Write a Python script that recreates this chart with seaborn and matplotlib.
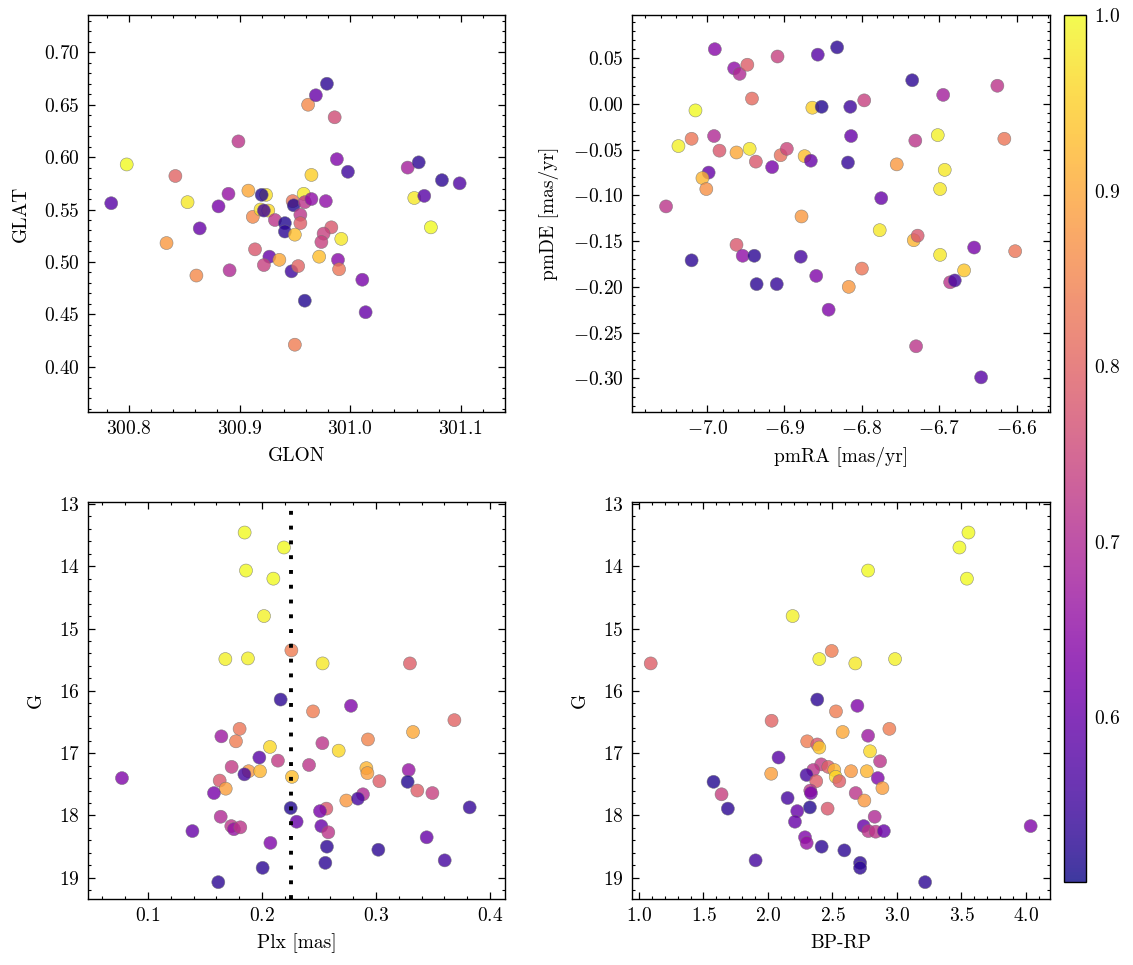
import numpy as np
import pandas as pd
import matplotlib
matplotlib.use("Agg")
import matplotlib.pyplot as plt
import seaborn as sns
from matplotlib.ticker import MultipleLocator, AutoMinorLocator, ScalarFormatter
from matplotlib.colors import Normalize, ListedColormap
from matplotlib.cm import ScalarMappable

# ---------------- data ----------------
glon = [300.784, 300.798, 300.842, 300.853, 300.834, 300.864, 300.861, 300.881, 300.890, 300.899,
        300.891, 300.908, 300.912, 300.924, 300.920, 300.919, 300.926, 300.922, 300.932, 300.914,
        300.927, 300.922, 300.936, 300.941, 300.941, 300.947, 300.953, 300.950, 300.959, 300.948,
        300.949, 300.958, 300.959, 300.965, 300.955, 300.955, 300.950, 300.962, 300.969, 300.979,
        300.986, 300.965, 300.978, 300.988, 300.998, 300.983, 300.976, 300.974, 300.992, 300.972,
        300.989, 300.990, 301.011, 301.014, 301.052, 301.062, 301.058, 301.067, 301.083, 301.099,
        301.073]
glat = [0.556, 0.593, 0.582, 0.557, 0.518, 0.532, 0.487, 0.553, 0.565, 0.615,
        0.492, 0.568, 0.543, 0.564, 0.564, 0.550, 0.549, 0.549, 0.540, 0.512,
        0.505, 0.497, 0.502, 0.537, 0.529, 0.491, 0.496, 0.421, 0.463, 0.558,
        0.554, 0.565, 0.557, 0.560, 0.545, 0.537, 0.526, 0.650, 0.659, 0.670,
        0.638, 0.583, 0.558, 0.598, 0.586, 0.533, 0.527, 0.519, 0.522, 0.505,
        0.502, 0.493, 0.483, 0.452, 0.590, 0.595, 0.561, 0.563, 0.578, 0.575,
        0.533]
prob_sky = [0.58, 1.00, 0.80, 0.98, 0.88, 0.60, 0.86, 0.62, 0.66, 0.72,
            0.70, 0.90, 0.86, 0.97, 0.52, 0.97, 0.96, 0.55, 0.72, 0.78,
            0.60, 0.74, 0.90, 0.52, 0.53, 0.55, 0.80, 0.84, 0.52, 0.83,
            0.52, 0.98, 0.72, 0.65, 0.72, 0.79, 0.93, 0.86, 0.60, 0.53,
            0.76, 0.95, 0.65, 0.63, 0.55, 0.78, 0.74, 0.74, 0.98, 0.93,
            0.64, 0.83, 0.62, 0.60, 0.68, 0.53, 0.98, 0.58, 0.53, 0.57,
            1.00]

pmra = [-6.990, -6.965, -6.958, -6.948, -6.909, -6.857, -6.832, -6.942, -7.015, -6.864,
        -6.852, -6.815, -6.797, -6.735, -6.695, -6.625, -7.020, -7.037, -6.991, -6.984,
        -6.962, -6.945, -6.937, -6.905, -6.897, -6.916, -6.874, -6.866, -6.818, -6.814,
        -6.731, -6.702, -6.616, -6.755, -6.693, -6.699, -6.998, -7.006, -7.001, -7.053,
        -6.775, -6.878, -6.777, -6.733, -6.728, -6.962, -6.954, -6.939, -7.020, -6.879,
        -6.859, -6.936, -6.910, -6.800, -6.817, -6.699, -6.655, -6.602, -6.668, -6.686,
        -6.680, -6.843, -6.730, -6.646]
pmde = [0.060, 0.039, 0.033, 0.043, 0.052, 0.054, 0.062, 0.006, -0.007, -0.004,
        -0.003, -0.003, 0.004, 0.026, 0.010, 0.020, -0.038, -0.046, -0.035, -0.051,
        -0.053, -0.049, -0.063, -0.056, -0.049, -0.069, -0.057, -0.062, -0.064, -0.035,
        -0.040, -0.034, -0.038, -0.066, -0.072, -0.093, -0.075, -0.081, -0.093, -0.112,
        -0.103, -0.123, -0.138, -0.149, -0.144, -0.154, -0.166, -0.166, -0.171, -0.167,
        -0.188, -0.197, -0.197, -0.180, -0.200, -0.165, -0.157, -0.161, -0.182, -0.195,
        -0.193, -0.225, -0.265, -0.299]
prob_pm = [0.64, 0.65, 0.70, 0.79, 0.74, 0.58, 0.53, 0.81, 1.00, 0.95,
           0.52, 0.55, 0.74, 0.53, 0.68, 0.72, 0.83, 0.99, 0.70, 0.78,
           0.90, 0.98, 0.78, 0.82, 0.75, 0.62, 0.93, 0.60, 0.54, 0.60,
           0.72, 0.99, 0.83, 0.88, 0.98, 0.98, 0.60, 0.92, 0.87, 0.72,
           0.60, 0.88, 0.98, 0.92, 0.78, 0.78, 0.65, 0.53, 0.53, 0.56,
           0.63, 0.53, 0.54, 0.83, 0.88, 0.98, 0.62, 0.83, 0.94, 0.72,
           0.56, 0.63, 0.72, 0.58]

plx = [0.1848, 0.2193, 0.1860, 0.2100, 0.2018, 0.1679, 0.1877, 0.2258, 0.2532, 0.3298,
       0.2164, 0.2448, 0.2781, 0.3688, 0.1644, 0.1804, 0.1772, 0.2070, 0.2530, 0.2673,
       0.2930, 0.3325, 0.1977, 0.1734, 0.2140, 0.2413, 0.1883, 0.1846, 0.1983, 0.2263,
       0.2916, 0.2925, 0.3287, 0.0772, 0.1629, 0.1682, 0.3030, 0.3278, 0.3363, 0.3495,
       0.1579, 0.2740, 0.2886, 0.2842, 0.2252, 0.2565, 0.2509, 0.3822, 0.1638, 0.2304,
       0.1731, 0.1754, 0.1810, 0.2521, 0.2582, 0.1390, 0.3445, 0.2074, 0.2570, 0.3021,
       0.3603, 0.2556, 0.2006, 0.1617]
g_plx = [13.46, 13.70, 14.07, 14.20, 14.80, 15.49, 15.48, 15.35, 15.56, 15.56,
         16.14, 16.33, 16.24, 16.47, 16.73, 16.61, 16.81, 16.90, 16.84, 16.96,
         16.78, 16.66, 17.07, 17.22, 17.12, 17.19, 17.29, 17.34, 17.29, 17.38,
         17.24, 17.32, 17.27, 17.40, 17.44, 17.57, 17.45, 17.46, 17.60, 17.64,
         17.64, 17.76, 17.66, 17.73, 17.88, 17.89, 17.93, 17.87, 18.02, 18.10,
         18.17, 18.22, 18.19, 18.17, 18.27, 18.25, 18.35, 18.44, 18.50, 18.55,
         18.72, 18.76, 18.84, 19.07]
prob_plx = [1.00, 1.00, 1.00, 1.00, 0.99, 0.99, 0.99, 0.84, 0.98, 0.79,
            0.53, 0.84, 0.63, 0.80, 0.67, 0.83, 0.84, 0.96, 0.72, 0.96,
            0.85, 0.90, 0.58, 0.73, 0.73, 0.72, 0.88, 0.56, 0.92, 0.93,
            0.92, 0.89, 0.66, 0.63, 0.78, 0.89, 0.79, 0.52, 0.79, 0.74,
            0.62, 0.88, 0.70, 0.56, 0.52, 0.78, 0.62, 0.54, 0.70, 0.60,
            0.72, 0.66, 0.72, 0.60, 0.72, 0.60, 0.60, 0.63, 0.53, 0.53,
            0.56, 0.53, 0.53, 0.53]
plx_ref = 0.2258

bprp = [3.554, 3.484, 3.542, 2.776, 2.191, 2.398, 2.494, 2.677, 2.985, 1.091,
        2.382, 2.527, 2.693, 2.028, 2.941, 2.579, 2.776, 2.304, 2.382, 2.398,
        2.791, 2.082, 2.869, 2.413, 2.467, 2.351, 2.514, 2.644, 2.766, 2.025,
        2.299, 2.525, 2.851, 2.374, 2.553, 1.578, 2.328, 2.333, 2.680, 2.887,
        1.640, 2.747, 2.152, 1.689, 2.325, 2.462, 2.227, 2.827, 2.209, 2.742,
        2.778, 2.835, 2.898, 4.036, 2.287, 2.300, 2.416, 2.592, 1.904, 2.714,
        2.714, 3.218]
g_cmd = [13.46, 13.70, 14.20, 14.07, 14.80, 15.49, 15.36, 15.56, 15.49, 15.56,
         16.14, 16.33, 16.24, 16.48, 16.61, 16.66, 16.72, 16.81, 16.86, 16.91,
         16.97, 17.07, 17.13, 17.18, 17.22, 17.27, 17.27, 17.29, 17.29, 17.33,
         17.35, 17.38, 17.40, 17.45, 17.45, 17.46, 17.60, 17.64, 17.64, 17.56,
         17.66, 17.76, 17.72, 17.89, 17.87, 17.89, 17.93, 18.02, 18.10, 18.17,
         18.25, 18.26, 18.25, 18.17, 18.35, 18.44, 18.50, 18.56, 18.72, 18.76,
         18.84, 19.07]
prob_cmd = [1.00, 1.00, 1.00, 1.00, 0.99, 0.99, 0.84, 0.98, 0.99, 0.79,
            0.53, 0.84, 0.63, 0.80, 0.84, 0.90, 0.67, 0.84, 0.78, 0.94,
            0.96, 0.58, 0.72, 0.73, 0.79, 0.72, 0.92, 0.88, 0.92, 0.89,
            0.56, 0.96, 0.63, 0.79, 0.79, 0.52, 0.72, 0.62, 0.72, 0.89,
            0.74, 0.88, 0.56, 0.53, 0.52, 0.78, 0.60, 0.70, 0.60, 0.60,
            0.72, 0.72, 0.60, 0.63, 0.63, 0.66, 0.53, 0.53, 0.56, 0.53,
            0.53, 0.53]

prob_min, prob_max = 0.506, 1.0
ALPHA = 0.8

# ---------------- style ----------------
sns.set_theme(style="ticks")
plt.rcParams.update({
    "font.family": ["cmr10", "DejaVu Serif"],
    "mathtext.fontset": "cm",
    "axes.formatter.use_mathtext": True,
    "axes.unicode_minus": True,
    "font.size": 14,
    "axes.labelsize": 14,
    "xtick.labelsize": 14,
    "ytick.labelsize": 14,
    "text.color": "black",
    "axes.labelcolor": "black",
    "axes.linewidth": 1.0,
    "axes.edgecolor": "black",
    "xtick.direction": "in",
    "ytick.direction": "in",
    "xtick.top": True,
    "ytick.right": True,
    "xtick.major.size": 5,
    "ytick.major.size": 5,
    "xtick.minor.size": 2.5,
    "ytick.minor.size": 2.5,
    "xtick.major.width": 0.9,
    "ytick.major.width": 0.9,
    "xtick.minor.width": 0.8,
    "ytick.minor.width": 0.8,
    "xtick.color": "black",
    "ytick.color": "black",
    "xtick.major.pad": 6,
    "ytick.major.pad": 6,
})

fig = plt.figure(figsize=(11.33, 9.65), dpi=100)
W, H = 1133, 965
def frac(x0, y0, x1, y1):
    return [x0 / W, 1 - y1 / H, (x1 - x0) / W, (y1 - y0) / H]

ax1 = fig.add_axes(frac(88, 15, 505, 412))
ax2 = fig.add_axes(frac(632, 15, 1050, 412))
ax3 = fig.add_axes(frac(88, 502, 505, 899))
ax4 = fig.add_axes(frac(632, 502, 1050, 899))
cax = fig.add_axes(frac(1064, 15, 1086, 882))

norm = Normalize(vmin=prob_min, vmax=prob_max)
kw = dict(palette="plasma", hue_norm=norm, legend=False, s=88, alpha=ALPHA,
          edgecolor="0.45", linewidth=0.4)

df1 = pd.DataFrame({"GLON": glon, "GLAT": glat, "p": prob_sky})
df2 = pd.DataFrame({"pmRA": pmra, "pmDE": pmde, "p": prob_pm})
df3 = pd.DataFrame({"Plx": plx, "G": g_plx, "p": prob_plx})
df4 = pd.DataFrame({"BPRP": bprp, "G": g_cmd, "p": prob_cmd})

sns.scatterplot(data=df1, x="GLON", y="GLAT", hue="p", ax=ax1, **kw)
sns.scatterplot(data=df2, x="pmRA", y="pmDE", hue="p", ax=ax2, **kw)
sns.scatterplot(data=df3, x="Plx", y="G", hue="p", ax=ax3, **kw)
sns.scatterplot(data=df4, x="BPRP", y="G", hue="p", ax=ax4, **kw)

ax3.axvline(plx_ref, color="black", lw=2.8, ls=(0, (1, 2.8)), zorder=5)

ax1.set_xlim(300.763, 301.140); ax1.set_ylim(0.3568, 0.7356)
ax2.set_xlim(-7.097, -6.557); ax2.set_ylim(-0.3369, 0.0974)
ax3.set_xlim(0.0474, 0.4132); ax3.set_ylim(19.34, 12.97)
ax4.set_xlim(0.946, 4.186); ax4.set_ylim(19.34, 12.97)

ax1.set_xlabel("GLON", labelpad=6); ax1.set_ylabel("GLAT", labelpad=10)
ax2.set_xlabel("pmRA [mas/yr]", labelpad=6); ax2.set_ylabel("pmDE [mas/yr]", labelpad=10)
ax3.set_xlabel("Plx [mas]", labelpad=6); ax3.set_ylabel("G", labelpad=10)
ax4.set_xlabel("BP-RP", labelpad=6); ax4.set_ylabel("G", labelpad=10)

majors = [(ax1, 0.1, 0.05), (ax2, 0.1, 0.05), (ax3, 0.1, 1), (ax4, 0.5, 1)]
for ax, mx, my in majors:
    ax.xaxis.set_major_locator(MultipleLocator(mx))
    ax.yaxis.set_major_locator(MultipleLocator(my))
    ax.xaxis.set_minor_locator(AutoMinorLocator(5))
    ax.yaxis.set_minor_locator(AutoMinorLocator(5))
    for axis in (ax.xaxis, ax.yaxis):
        fmt = ScalarFormatter(useOffset=False, useMathText=True)
        axis.set_major_formatter(fmt)
    ax.tick_params(which="both", direction="in", top=True, right=True)
    for sp in ax.spines.values():
        sp.set_visible(True)
        sp.set_linewidth(1.0)
        sp.set_color("black")

# colorbar drawn with the same transparency as the markers (blended on white)
base = plt.get_cmap("plasma")(np.linspace(0, 1, 256))[:, :3]
faded = ListedColormap(base * ALPHA + (1 - ALPHA))
sm = ScalarMappable(norm=norm, cmap=faded)
cb = fig.colorbar(sm, cax=cax)
cb.set_ticks([0.6, 0.7, 0.8, 0.9, 1.0])
cb.ax.yaxis.set_minor_locator(MultipleLocator(0.02))
cb.ax.tick_params(which="both", direction="in", right=True, left=False)
cb.ax.tick_params(which="major", length=5)
cb.ax.tick_params(which="minor", length=2.5)
cb.outline.set_linewidth(1.0)

fig.savefig("out.png", dpi=100)
